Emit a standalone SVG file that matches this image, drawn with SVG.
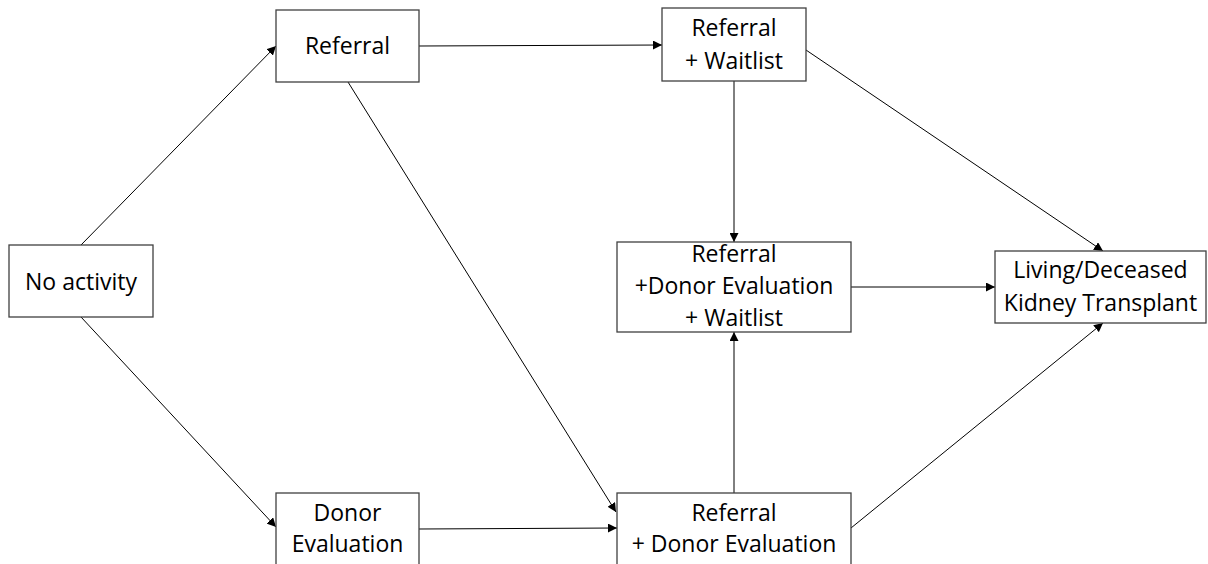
<svg xmlns="http://www.w3.org/2000/svg" width="1208" height="564" viewBox="0 0 1208 564">
<style>
.box{fill:#fff;stroke:#404040;stroke-width:1.3}
.t{font-family:"Open Sans","Liberation Sans",sans-serif;font-size:23px;fill:#000;text-anchor:middle}
.c{stroke:#000;stroke-width:1;fill:none;marker-end:url(#ah)}
</style>
<defs>
<marker id="ah" viewBox="0 0 10 10" refX="10" refY="5" markerWidth="9" markerHeight="9" markerUnits="userSpaceOnUse" orient="auto">
<path d="M0,0 L10,5 L0,10 z" fill="#000"/>
</marker>
</defs>
<rect width="1208" height="564" fill="#fff"/>
<g id="connectors">
<line class="c" x1="81" y1="245" x2="276" y2="46"/>
<line class="c" x1="81" y1="317" x2="276" y2="527"/>
<line class="c" x1="419" y1="46" x2="662" y2="45"/>
<line class="c" x1="348" y1="82" x2="616" y2="512"/>
<line class="c" x1="419" y1="529" x2="617" y2="528"/>
<line class="c" x1="734" y1="81" x2="734" y2="242"/>
<line class="c" x1="806" y1="50" x2="1103" y2="251"/>
<line class="c" x1="851" y1="287" x2="995" y2="287"/>
<line class="c" x1="734" y1="493" x2="734" y2="332"/>
<line class="c" x1="851" y1="528" x2="1103" y2="323"/>
</g>
<g id="no-activity">
<rect class="box" x="9" y="245" width="144" height="72"/>
<text class="t" x="81" y="290">No activity</text>
</g>
<g id="referral">
<rect class="box" x="276" y="10" width="143" height="72"/>
<text class="t" x="347.5" y="54">Referral</text>
</g>
<g id="referral-waitlist">
<rect class="box" x="662" y="8" width="144" height="73"/>
<text class="t" x="734" y="36">Referral</text>
<text class="t" x="734" y="69">+ Waitlist</text>
</g>
<g id="referral-donor-waitlist">
<rect class="box" x="617" y="242" width="234" height="90"/>
<text class="t" x="734" y="262">Referral</text>
<text class="t" x="734" y="294">+Donor Evaluation</text>
<text class="t" x="734" y="326">+ Waitlist</text>
</g>
<g id="transplant">
<rect class="box" x="995" y="251" width="211" height="72"/>
<text class="t" x="1100.5" y="278">Living/Deceased</text>
<text class="t" x="1100.5" y="311">Kidney Transplant</text>
</g>
<g id="donor-evaluation">
<rect class="box" x="276" y="493" width="143" height="80"/>
<text class="t" x="347.5" y="521">Donor</text>
<text class="t" x="347.5" y="552">Evaluation</text>
</g>
<g id="referral-donor">
<rect class="box" x="617" y="493" width="234" height="80"/>
<text class="t" x="734" y="521">Referral</text>
<text class="t" x="734" y="552">+ Donor Evaluation</text>
</g>
</svg>
